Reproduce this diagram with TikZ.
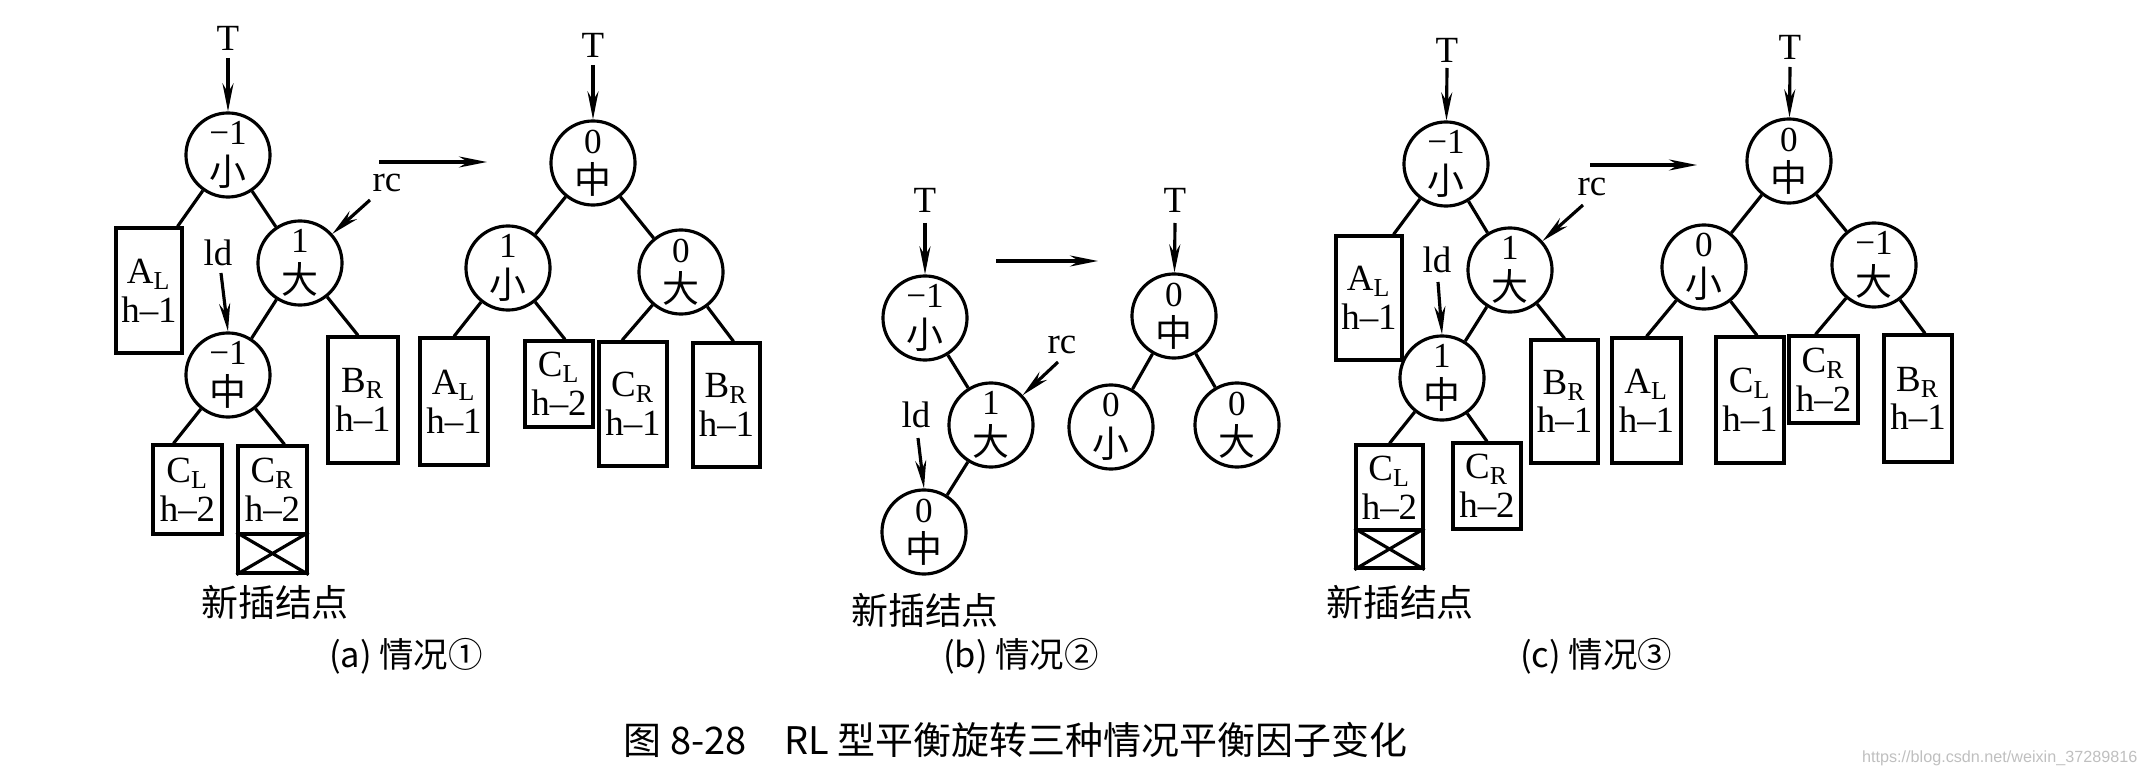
\documentclass[tikz,border=0pt]{standalone}
\usepackage{fontspec}
\setmainfont{Liberation Serif}
\newfontfamily\cjk{Noto Sans CJK SC}
\newfontfamily\wmfont{Liberation Sans}
\usetikzlibrary{arrows.meta}
\newcommand\zh[1]{{\cjk\fontsize{10.5}{11.5}\selectfont #1}}
\begin{document}
\begin{tikzpicture}[x=0.01cm,y=-0.01cm,
  nd/.style={circle,draw,line width=0.9pt,minimum size=0.84cm,inner sep=0pt,align=center,font=\fontsize{10}{11.5}\selectfont},
  bx/.style n args={2}{draw,line width=0.9pt,minimum width=#1,minimum height=#2,inner sep=0pt,align=center,font=\fontsize{10.5}{11}\selectfont},
  lbl/.style={inner sep=0pt,font=\fontsize{10.5}{12}\selectfont},
  cjklbl/.style={inner sep=0pt,font=\cjk\fontsize{10.5}{12}\selectfont},
  subcap/.style={inner sep=0pt,font=\cjk\fontsize{9.8}{11}\selectfont},
  figcap/.style={inner sep=0pt,font=\cjk\fontsize{10.8}{12}\selectfont},
  edge/.style={line width=0.9pt},
  arr/.style={line width=0.9pt,-{Stealth[length=2.8mm,width=1.1mm]}}]
\useasboundingbox (0,0) rectangle (2148,776);

% ===== (a) left tree =====
\node[lbl] (a1T) at (228,38) {T};
\coordinate (a1Ts) at (228,58);
\node[nd] (a1) at (228,155) {−1\\\zh{小}};
\node[nd] (a1R) at (300,263) {1\\\zh{大}};
\node[nd] (a1M) at (228,375) {−1\\\zh{中}};
\node[bx={0.66cm}{1.25cm}] (a1AL) at (149,290.5) {A\textsubscript{L}\\h–1};
\node[bx={0.70cm}{1.26cm}] (a1BR) at (363,400) {B\textsubscript{R}\\h–1};
\node[bx={0.69cm}{0.89cm}] (a1CL) at (187.5,489.5) {C\textsubscript{L}\\h–2};
\node[bx={0.69cm}{0.88cm}] (a1CR) at (272.5,490) {C\textsubscript{R}\\h–2};
\node[bx={0.69cm}{0.39cm}] (a1X) at (272.5,553.5) {};
\draw[edge] (a1X.north west) -- (a1X.south east) (a1X.north east) -- (a1X.south west);
\node[lbl] (a1rc) at (387,183) {rc};
\coordinate (a1rcs) at (370,200);
\node[lbl] (a1ld) at (218,253) {ld};
\coordinate (a1lds) at (221,273);
\node[cjklbl] (a1new) at (275,602) {新插结点};
\draw[arr] (a1Ts) -- (a1);
\draw[arr] (a1rcs) -- (a1R);
\draw[arr] (a1lds) -- (a1M.north);
\draw[edge] (a1) -- ([xshift=-0.06cm]a1AL.north east);
\draw[edge] (a1) -- (a1R);
\draw[edge] (a1R) -- (a1M);
\draw[edge] (a1R) -- ([xshift=-0.05cm]a1BR.north);
\draw[edge] (a1M) -- ([xshift=-0.14cm]a1CL.north);
\draw[edge] (a1M) -- ([xshift=0.12cm]a1CR.north);
\coordinate (aA1) at (379,162);
\coordinate (aA2) at (487,162);
\draw[arr] (aA1) -- (aA2);

% ===== (a) right tree =====
\node[lbl] (a2T) at (593,45) {T};
\coordinate (a2Ts) at (593,65);
\node[nd] (a2) at (593,163) {0\\\zh{中}};
\node[nd] (a2L) at (508,268) {1\\\zh{小}};
\node[nd] (a2R) at (681,272) {0\\\zh{大}};
\node[bx={0.68cm}{1.27cm}] (a2AL) at (454,401.5) {A\textsubscript{L}\\h–1};
\node[bx={0.68cm}{0.86cm}] (a2CL) at (559,384) {C\textsubscript{L}\\h–2};
\node[bx={0.68cm}{1.24cm}] (a2CR) at (633,404) {C\textsubscript{R}\\h–1};
\node[bx={0.67cm}{1.24cm}] (a2BR) at (726.5,405) {B\textsubscript{R}\\h–1};
\draw[arr] (a2Ts) -- (a2);
\draw[edge] (a2) -- (a2L);
\draw[edge] (a2) -- (a2R);
\draw[edge] (a2L) -- (a2AL.north);
\draw[edge] (a2L) -- ([xshift=0.06cm]a2CL.north);
\draw[edge] (a2R) -- ([xshift=-0.11cm]a2CR.north);
\draw[edge] (a2R) -- ([xshift=0.07cm]a2BR.north);
\node[subcap] (capa) at (406,656) {(a) 情况①};

% ===== (b) =====
\node[lbl] (b1T) at (925,200) {T};
\coordinate (b1Ts) at (925,223);
\node[nd] (b1) at (925,318) {−1\\\zh{小}};
\node[nd] (b1R) at (991,425) {1\\\zh{大}};
\node[nd] (b1M) at (924,532) {0\\\zh{中}};
\node[lbl] (b1rc) at (1062,345) {rc};
\coordinate (b1rcs) at (1058,362);
\node[lbl] (b1ld) at (916,415) {ld};
\coordinate (b1lds) at (918,438);
\node[cjklbl] (b1new) at (925,610) {新插结点};
\draw[arr] (b1Ts) -- (b1);
\draw[arr] (b1rcs) -- (b1R);
\draw[arr] (b1lds) -- (b1M.north);
\draw[edge] (b1) -- (b1R);
\draw[edge] (b1R) -- (b1M);
\coordinate (bA1) at (996,261);
\coordinate (bA2) at (1098,261);
\draw[arr] (bA1) -- (bA2);
\node[lbl] (b2T) at (1175,200) {T};
\coordinate (b2Ts) at (1175,223);
\node[nd] (b2) at (1174,316) {0\\\zh{中}};
\node[nd] (b2L) at (1111,427) {0\\\zh{小}};
\node[nd] (b2R) at (1237,425) {0\\\zh{大}};
\draw[arr] (b2Ts) -- (b2);
\draw[edge] (b2) -- (b2L);
\draw[edge] (b2) -- (b2R);
\node[subcap] (capb) at (1021,656) {(b) 情况②};

% ===== (c) left tree =====
\node[lbl] (c1T) at (1447,50) {T};
\coordinate (c1Ts) at (1447,68);
\node[nd] (c1) at (1446,164) {−1\\\zh{小}};
\node[nd] (c1R) at (1510,270) {1\\\zh{大}};
\node[nd] (c1M) at (1442,378) {1\\\zh{中}};
\node[bx={0.66cm}{1.24cm}] (c1AL) at (1369,298) {A\textsubscript{L}\\h–1};
\node[bx={0.67cm}{1.23cm}] (c1BR) at (1564.5,401.5) {B\textsubscript{R}\\h–1};
\node[bx={0.67cm}{0.85cm}] (c1CL) at (1389.5,487.5) {C\textsubscript{L}\\h–2};
\node[bx={0.67cm}{0.38cm}] (c1X) at (1389.5,549) {};
\draw[edge] (c1X.north west) -- (c1X.south east) (c1X.north east) -- (c1X.south west);
\node[bx={0.68cm}{0.86cm}] (c1CR) at (1487,486) {C\textsubscript{R}\\h–2};
\node[lbl] (c1rc) at (1592,187) {rc};
\coordinate (c1rcs) at (1583,205);
\node[lbl] (c1ld) at (1437,260) {ld};
\coordinate (c1lds) at (1438,282);
\node[cjklbl] (c1new) at (1400,602) {新插结点};
\draw[arr] (c1Ts) -- (c1);
\draw[arr] (c1rcs) -- (c1R);
\draw[arr] (c1lds) -- (c1M.north);
\draw[edge] (c1) -- ([xshift=-0.1cm]c1AL.north east);
\draw[edge] (c1) -- (c1R);
\draw[edge] (c1R) -- (c1M);
\draw[edge] (c1R) -- (c1BR.north);
\draw[edge] (c1M) -- (c1CL.north);
\draw[edge] (c1M) -- (c1CR.north);
\coordinate (cA1) at (1590,165);
\coordinate (cA2) at (1697,165);
\draw[arr] (cA1) -- (cA2);

% ===== (c) right tree =====
\node[lbl] (c2T) at (1790,47) {T};
\coordinate (c2Ts) at (1790,67);
\node[nd] (c2) at (1789,161) {0\\\zh{中}};
\node[nd] (c2L) at (1704,267) {0\\\zh{小}};
\node[nd] (c2R) at (1874,265) {−1\\\zh{大}};
\node[bx={0.69cm}{1.25cm}] (c2AL) at (1646.5,400.5) {A\textsubscript{L}\\h–1};
\node[bx={0.68cm}{1.26cm}] (c2CL) at (1750,400) {C\textsubscript{L}\\h–1};
\node[bx={0.69cm}{0.87cm}] (c2CR) at (1823.5,379.5) {C\textsubscript{R}\\h–2};
\node[bx={0.68cm}{1.27cm}] (c2BR) at (1918,398.5) {B\textsubscript{R}\\h–1};
\draw[arr] (c2Ts) -- (c2);
\draw[edge] (c2) -- (c2L);
\draw[edge] (c2) -- (c2R);
\draw[edge] (c2L) -- (c2AL.north);
\draw[edge] (c2L) -- ([xshift=0.07cm]c2CL.north);
\draw[edge] (c2R) -- ([xshift=-0.08cm]c2CR.north);
\draw[edge] (c2R) -- ([xshift=0.07cm]c2BR.north);
\node[subcap] (capc) at (1596,656) {(c) 情况③};

% ===== caption =====
\node[figcap,anchor=west] (figcaption) at (623,740) {图 8-28\quad RL 型平衡旋转三种情况平衡因子变化};
\node[inner sep=0pt,anchor=east,text=black!25,font=\wmfont\fontsize{4.6}{5}\selectfont] (wm) at (2138,758) {https://blog.csdn.net/weixin\_37289816};
\end{tikzpicture}
\end{document}
